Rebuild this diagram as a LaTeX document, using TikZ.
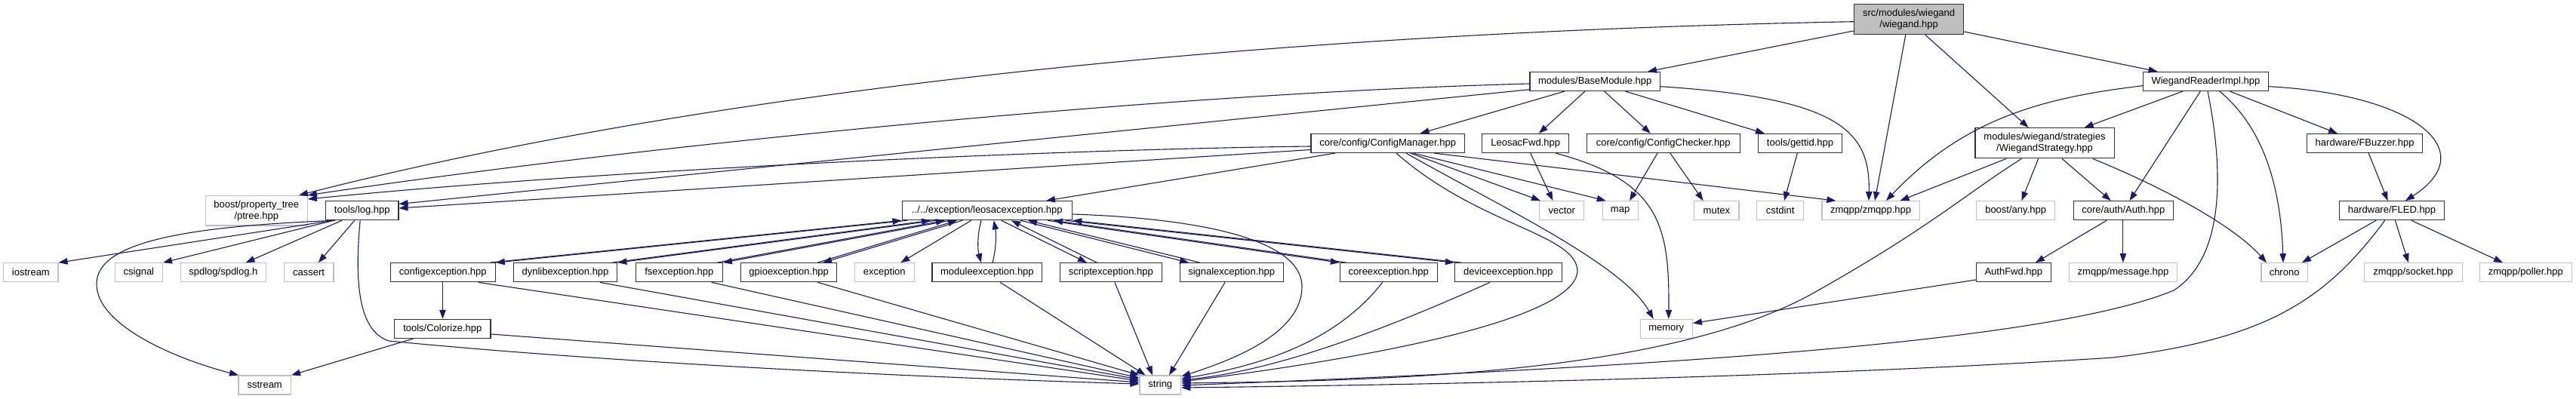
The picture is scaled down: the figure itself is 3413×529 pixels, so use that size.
\documentclass[tikz,border=0pt]{standalone}
\usepackage{fontspec}
\setmainfont{Liberation Sans}
\usetikzlibrary{arrows.meta}
\definecolor{edgec}{RGB}{25,25,112}
\definecolor{ltgray}{RGB}{191,191,191}
\definecolor{dkgray}{RGB}{50,50,50}
\definecolor{rootfill}{RGB}{191,191,191}
\begin{document}
\begin{tikzpicture}[x=1pt,y=-1pt,
 nd/.style={rectangle, inner sep=0pt, minimum height=25pt, font=\fontsize{13}{15}\selectfont, align=center, line width=1.2pt},
 bk/.style={nd, draw=dkgray},
 gr/.style={nd, draw=ltgray},
 rt/.style={nd, draw=dkgray, fill=rootfill},
 e/.style={draw=edgec, line width=1.1pt, -{Triangle[length=12pt,width=8.5pt]}},
]
\useasboundingbox[fill=white] (0,0) rectangle (3413,529);
% nodes
\node[rt, minimum width=145.4pt, minimum height=39.8pt] (root) at (2529.1,25.6) {src/modules/wiegand\\/wiegand.hpp};
\node[bk, minimum width=172.3pt] (BaseModule) at (2113.2,108) {modules/BaseModule.hpp};
\node[bk, minimum width=165.7pt] (WRI) at (2922.4,108) {WiegandReaderImpl.hpp};
\node[gr, minimum width=135pt, minimum height=39.5pt] (ptree) at (339.8,279.2) {boost/property\_tree\\/ptree.hpp};
\node[bk, minimum width=96.2pt] (log) at (479.8,279.2) {tools/log.hpp};
\node[bk, minimum width=225.6pt] (leosac) at (1307.9,279.2) {../../exception/leosacexception.hpp};
\node[bk, minimum width=203.4pt] (CM) at (1838.7,190) {core/config/ConfigManager.hpp};
\node[bk, minimum width=115pt] (LF) at (2021.2,190) {LeosacFwd.hpp};
\node[bk, minimum width=202.7pt] (CC) at (2203.8,190) {core/config/ConfigChecker.hpp};
\node[bk, minimum width=111pt] (gettid) at (2385,190) {tools/gettid.hpp};
\node[bk, minimum width=184.2pt, minimum height=40.1pt] (WS) at (2709,189.8) {modules/wiegand/strategies\\/WiegandStrategy.hpp};
\node[bk, minimum width=153.2pt] (FBuzzer) at (3133.1,190) {hardware/FBuzzer.hpp};
\node[gr, minimum width=59pt] (vector) at (2069.2,279.2) {vector};
\node[gr, minimum width=47pt] (map) at (2146.6,279.2) {map};
\node[gr, minimum width=59.2pt] (mutex) at (2274.4,279.2) {mutex};
\node[gr, minimum width=61.7pt] (cstdint) at (2358.6,279.2) {cstdint};
\node[gr, minimum width=129.4pt] (zmqpp) at (2478.6,279.2) {zmqpp/zmqpp.hpp};
\node[gr, minimum width=104.3pt] (any) at (2670.6,279.2) {boost/any.hpp};
\node[bk, minimum width=132.3pt] (Auth) at (2813.3,279.2) {core/auth/Auth.hpp};
\node[bk, minimum width=138.3pt] (FLED) at (3169,279.2) {hardware/FLED.hpp};
\node[gr, minimum width=72.1pt] (iostream) at (40.9,361.3) {iostream};
\node[gr, minimum width=62.9pt] (csignal) at (183.9,361.3) {csignal};
\node[gr, minimum width=113.2pt] (spdlog) at (295.9,361.3) {spdlog/spdlog.h};
\node[gr, minimum width=65.8pt] (cassert) at (409.1,361.3) {cassert};
\node[bk, minimum width=139.1pt] (configexc) at (586.7,361.3) {configexception.hpp};
\node[bk, minimum width=137.6pt] (dynlib) at (749,361.3) {dynlibexception.hpp};
\node[bk, minimum width=115.1pt] (fs) at (899.8,361.3) {fsexception.hpp};
\node[bk, minimum width=126.9pt] (gpio) at (1045.2,361.3) {gpioexception.hpp};
\node[gr, minimum width=79.2pt] (exception) at (1171.8,361.3) {exception};
\node[bk, minimum width=145.8pt] (module) at (1307.9,361.3) {moduleexception.hpp};
\node[bk, minimum width=134.6pt] (script) at (1471.8,361.3) {scriptexception.hpp};
\node[bk, minimum width=137.2pt] (signal) at (1631.7,361.3) {signalexception.hpp};
\node[bk, minimum width=128.8pt] (coreexc) at (1839.8,361.3) {coreexception.hpp};
\node[bk, minimum width=141.6pt] (deviceexc) at (1998.3,361.3) {deviceexception.hpp};
\node[bk, minimum width=98.8pt] (AuthFwd) at (2667.8,361.3) {AuthFwd.hpp};
\node[gr, minimum width=142.8pt] (message) at (2813,361.3) {zmqpp/message.hpp};
\node[gr, minimum width=61.3pt] (chrono) at (3026.6,361.3) {chrono};
\node[gr, minimum width=129.8pt] (socket) at (3197.2,361.3) {zmqpp/socket.hpp};
\node[gr, minimum width=121.6pt] (poller) at (3346.3,361.3) {zmqpp/poller.hpp};
\node[bk, minimum width=127.2pt] (Colorize) at (586.3,435.9) {tools/Colorize.hpp};
\node[gr, minimum width=69.2pt] (memory) at (2207.7,435.9) {memory};
\node[gr, minimum width=69.5pt] (sstream) at (350.7,510.5) {sstream};
\node[gr, minimum width=54.7pt] (string) at (1537.3,510.5) {string};
% root
\draw[e] (root.west |- 0,41) -- (BaseModule.north -| 2183,0);
\draw[e] (root.west |- 0,28.7) .. controls (1600,45) and (900,130) .. (ptree.north -| 396,0);
\draw[e] (root.south -| 2524.8,0) -- (zmqpp.north -| 2484,0);
\draw[e] (root.south -| 2550.7,0) -- (WS.north -| 2687.6,0);
\draw[e] (root.east |- 0,42) -- (WRI.north -| 2858.6,0);
% BaseModule
\draw[e] (BaseModule.south -| 2072.8,0) -- (CM.north -| 1881.6,0);
\draw[e] (BaseModule.south -| 2099.9,0) -- (LF.north -| 2038.8,0);
\draw[e] (BaseModule.south -| 2125.7,0) -- (CC.north -| 2186.8,0);
\draw[e] (BaseModule.south -| 2153.5,0) -- (gettid.north -| 2338,0);
\draw[e] (BaseModule.east |- 0,114.7) .. controls (2440,130) and (2478,175) .. (zmqpp.north -| 2476,0);
\draw[e] (BaseModule.west |- 0,111) .. controls (1500,125) and (800,200) .. (ptree.north east);
\draw[e] (BaseModule.west |- 0,118.7) -- (log.east |- 0,270.5);
% ConfigManager
\draw[e] (CM.west |- 0,194) .. controls (1400,198) and (800,225) .. (ptree.east |- 0,264);
\draw[e] (CM.west |- 0,198.5) -- (log.east |- 0,276);
\draw[e] (CM.south -| 1768.8,0) -- (leosac.north -| 1386,0);
\draw[e] (CM.south -| 1868.7,0) -- (vector.north -| 2041,0);
\draw[e] (CM.south -| 1872.4,0) -- (map.north -| 2127.7,0);
\draw[e] (CM.south -| 1900,0) -- (zmqpp.north -| 2432.4,0);
\draw[e] (CM.south -| 1863,0) .. controls (1990,275) and (2150,350) .. (memory.north -| 2190.6,0);
\draw[e] (CM.south -| 1850,0) .. controls (1960,300) and (2090,310) .. (2090,360) .. controls (2085,420) and (1850,470) .. (string.east |- 0,506);
% LeosacFwd, ConfigChecker, gettid
\draw[e] (LF.south -| 2027.8,0) -- (vector.north -| 2057.4,0);
\draw[e] (LF.south -| 2061,0) .. controls (2200,240) and (2212,300) .. (memory.north -| 2210.8,0);
\draw[e] (CC.south -| 2196,0) -- (map.north -| 2159,0);
\draw[e] (CC.south -| 2212.8,0) -- (mutex.north -| 2256.6,0);
\draw[e] (gettid.south -| 2381.3,0) -- (cstdint.north -| 2364,0);
% WiegandStrategy
\draw[e] (WS.south -| 2658,0) -- (zmqpp.north -| 2517.5,0);
\draw[e] (WS.south -| 2700.6,0) -- (any.north -| 2678.4,0);
\draw[e] (WS.south -| 2732,0) -- (Auth.north -| 2796.7,0);
\draw[e] (WS.south -| 2772.7,0) .. controls (2870,250) and (2960,300) .. (chrono.north -| 3003,0);
\draw[e] (WS.south -| 2678.4,0) .. controls (2600,260) and (2560,300) .. (2400,390) .. controls (2200,500) and (1800,505) .. (string.east |- 0,508);
% Auth
\draw[e] (Auth.south -| 2791,0) -- (AuthFwd.north -| 2696.9,0);
\draw[e] (Auth.south -| 2812.9,0) -- (message.north -| 2812.9,0);
\draw[e] (AuthFwd.west |- 0,371) -- (memory.east |- 0,428.5);
% WiegandReaderImpl
\draw[e] (WRI.west |- 0,113.7) .. controls (2700,130) and (2600,160) .. (zmqpp.north -| 2499,0);
\draw[e] (WRI.south -| 2891.9,0) -- (WS.north -| 2761.6,0);
\draw[e] (WRI.south -| 2915.3,0) -- (Auth.north -| 2821.5,0);
\draw[e] (WRI.south -| 2925,0) .. controls (2945,220) and (2950,340) .. (2880,385) .. controls (2700,460) and (2100,490) .. (string.east |- 0,511);
\draw[e] (WRI.south -| 2940.8,0) .. controls (3000,170) and (3022,250) .. (chrono.north -| 3025,0);
\draw[e] (WRI.south -| 2954.4,0) -- (FBuzzer.north -| 3097,0);
\draw[e] (WRI.east |- 0,114.7) .. controls (3200,125) and (3290,200) .. (FLED.north -| 3187,0);
% FBuzzer, FLED
\draw[e] (FBuzzer.south -| 3138.2,0) -- (FLED.north -| 3163.6,0);
\draw[e] (FLED.south -| 3148,0) -- (chrono.north -| 3050,0);
\draw[e] (FLED.south -| 3173.4,0) -- (socket.north -| 3191,0);
\draw[e] (FLED.south -| 3194.9,0) -- (poller.north -| 3316,0);
\draw[e] (FLED.south -| 3159.7,0) .. controls (3080,400) and (3000,450) .. (2800,474) .. controls (2400,500) and (1900,510) .. (string.east |- 0,514);
% tools/log.hpp
\draw[e] (log.south -| 441,0) -- (iostream.north east);
\draw[e] (log.south -| 442,0) -- (csignal.north east);
\draw[e] (log.south -| 453,0) -- (spdlog.north -| 325.6,0);
\draw[e] (log.south -| 469.8,0) -- (cassert.north -| 421.8,0);
\draw[e] (log.south -| 444,0) .. controls (250,300) and (130,320) .. (128,375) .. controls (126,430) and (230,475) .. (sstream.north -| 316,0);
\draw[e] (log.south -| 477.2,0) .. controls (468,390) and (480,440) .. (515,452) .. controls (800,480) and (1200,500) .. (string.west |- 0,509);
% Colorize
\draw[e] (configexc.south -| 586.5,0) -- (Colorize.north -| 586.5,0);
\draw[e] (Colorize.south -| 547.5,0) -- (sstream.north east);
\draw[e] (Colorize.east |- 0,443) -- (string.west |- 0,507);
% leosac <-> exceptions
\draw[e] (leosac.south -| 1202,0) -- (configexc.north east);
\draw[e] (configexc.north -| 649,0) -- (leosac.south west);
\draw[e] (leosac.south -| 1240,0) -- (dynlib.north east);
\draw[e] (dynlib.north -| 810.8,0) -- (leosac.south -| 1233,0);
\draw[e] (leosac.south -| 1259,0) -- (fs.north east);
\draw[e] (fs.north -| 950,0) -- (leosac.south -| 1252,0);
\draw[e] (leosac.south -| 1275,0) -- (gpio.north -| 1090,0);
\draw[e] (gpio.north -| 1083,0) -- (leosac.south -| 1268,0);
\draw[e] (leosac.south -| 1286.7,0) -- (exception.north -| 1193.3,0);
\draw[e] (leosac.south -| 1300,0) .. controls (1295,310) and (1295,330) .. (module.north -| 1300,0);
\draw[e] (module.north -| 1315,0) .. controls (1320,330) and (1320,310) .. (leosac.south -| 1316.7,0);
\draw[e] (leosac.south -| 1326.7,0) -- (script.north -| 1440,0);
\draw[e] (script.north -| 1453.3,0) -- (leosac.south -| 1340,0);
\draw[e] (leosac.south -| 1352,0) -- (signal.north -| 1575,0);
\draw[e] (signal.north -| 1590,0) -- (leosac.south -| 1362,0);
\draw[e] (leosac.south -| 1388,0) -- (coreexc.north west);
\draw[e] (coreexc.north -| 1784,0) -- (leosac.south -| 1396,0);
\draw[e] (leosac.south -| 1412,0) -- (deviceexc.north west);
\draw[e] (deviceexc.north -| 1936,0) -- (leosac.south east);
\draw[e] (leosac.east |- 0,284) .. controls (1600,290) and (1725,320) .. (1725,380) .. controls (1725,440) and (1640,475) .. (string.east |- 0,499);
% exceptions -> string
\draw[e] (configexc.south -| 634,0) -- (string.west |- 0,505);
\draw[e] (dynlib.south -| 794.9,0) -- (string.west |- 0,503);
\draw[e] (fs.south -| 942.8,0) -- (string.west |- 0,501);
\draw[e] (gpio.south -| 1083.4,0) -- (string.north west);
\draw[e] (module.south -| 1325.3,0) -- (string.north -| 1517.6,0);
\draw[e] (script.south -| 1477,0) -- (string.north -| 1527,0);
\draw[e] (signal.south -| 1623,0) -- (string.north -| 1549,0);
\draw[e] (coreexc.south -| 1831.7,0) .. controls (1780,440) and (1700,480) .. (string.east |- 0,502);
\draw[e] (deviceexc.south -| 1974,0) .. controls (1850,430) and (1700,490) .. (string.east |- 0,504);
\end{tikzpicture}
\end{document}
